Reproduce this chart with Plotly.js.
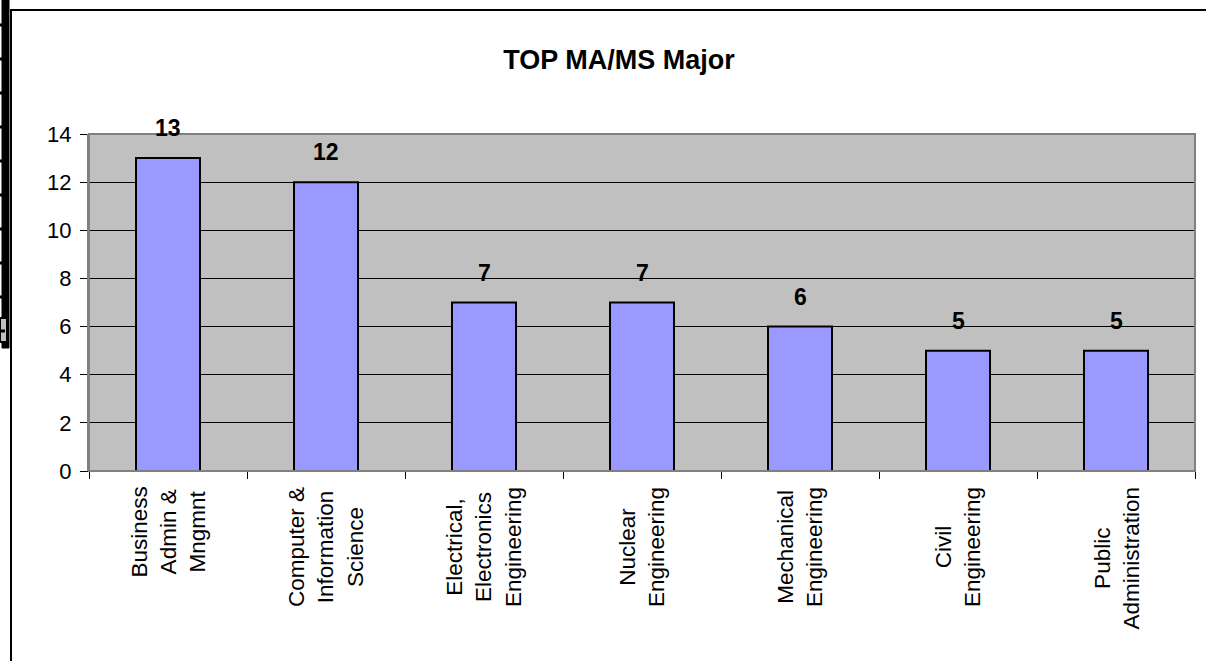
<!DOCTYPE html>
<html>
<head>
<meta charset="utf-8">
<script src="https://cdn.plot.ly/plotly-3.0.1.min.js"></script>
<style>
html,body{margin:0;padding:0;background:#fff;}
#chart{width:1206px;height:661px;}
</style>
</head>
<body>
<div id="chart"></div>
<script>
// ---- data ----
const categories = ["Business Admin & Mngmnt", "Computer & Information Science", "Electrical, Electronics Engineering", "Nuclear Engineering", "Mechanical Engineering", "Civil Engineering", "Public Administration"];
const categoryLabels = ["Business<br>Admin &<br>Mngmnt", "Computer &<br>Information<br>Science", "Electrical,<br>Electronics<br>Engineering", "Nuclear<br>Engineering", "Mechanical<br>Engineering", "Civil<br>Engineering", "Public<br>Administration"];
const counts = [13, 12, 7, 7, 6, 5, 5];
const yTicks = [0, 2, 4, 6, 8, 10, 12, 14];
const chartTitle = "TOP MA/MS Major";

// ---- layout geometry ----
const W = 1206, H = 661;
const M = {l: 89, r: 11, t: 134, b: 190};
const PW = W - M.l - M.r, PH = H - M.t - M.b;
const px = x => (x - M.l) / PW;          // pixel -> paper x
const py = y => (H - M.b - y) / PH;      // pixel -> paper y
const FONT = "Arial, 'Liberation Sans', sans-serif";

const trace = {
  type: 'bar',
  x: categories,
  y: counts,
  marker: {color: '#9999FF', line: {color: '#000000', width: 2}},
  hoverinfo: 'x+y'
};

const annotations = [];
categories.forEach((c, i) => {
  annotations.push({
    x: c, y: counts[i], xref: 'x', yref: 'y',
    text: '<b>' + counts[i] + '</b>', showarrow: false,
    yanchor: 'bottom', yshift: 15,
    font: {family: FONT, size: 23, color: '#000'}
  });
  annotations.push({
    x: c, y: 0, xref: 'x', yref: 'y',
    text: categoryLabels[i], showarrow: false,
    textangle: -90, align: 'center',
    yanchor: 'top', xanchor: 'center', yshift: -14,
    font: {family: FONT, size: 22.5, color: '#000'}
  });
});

const shapes = [
  // plot area border
  {type: 'rect', xref: 'paper', yref: 'paper', x0: 0, x1: 1, y0: 0, y1: 1,
   line: {color: '#808080', width: 2}, layer: 'above'},
  // chart frame (extends beyond the picture on right/bottom)
  {type: 'path', xref: 'paper', yref: 'paper',
   path: `M ${px(11)} ${py(670)} L ${px(11)} ${py(10)} L ${px(1215)} ${py(10)}`,
   line: {color: '#000', width: 2}},
  // left black strip (spreadsheet edge)
  {type: 'rect', xref: 'paper', yref: 'paper', x0: px(2), x1: px(9), y0: py(348), y1: py(-2),
   fillcolor: '#000', line: {color: '#000', width: 1}},
  {type: 'rect', xref: 'paper', yref: 'paper', x0: px(0), x1: px(7), y0: py(342), y1: py(318),
   fillcolor: '#c0c0c0', line: {color: '#000', width: 2}}
];
[25, 59, 93, 127, 161, 195, 229, 263, 297, 331].forEach(y => {
  shapes.push({type: 'line', xref: 'paper', yref: 'paper', x0: px(-1), x1: px(5), y0: py(y), y1: py(y),
    line: {color: '#000', width: 3}});
});

const layout = {
  width: W, height: H,
  margin: M,
  paper_bgcolor: '#ffffff',
  plot_bgcolor: '#C0C0C0',
  font: {family: FONT, color: '#000'},
  title: {
    text: '<b>' + chartTitle + '</b>',
    font: {family: FONT, size: 27, color: '#000'},
    x: 619 / W, xref: 'container', xanchor: 'center',
    y: 1 - 60 / H, yref: 'container', yanchor: 'middle'
  },
  bargap: 0.595,
  showlegend: false,
  xaxis: {
    type: 'category',
    showticklabels: false,
    ticks: 'outside', tickson: 'boundaries', ticklen: 7, tickcolor: '#000', tickwidth: 1,
    showline: true, linecolor: '#000', linewidth: 1,
    showgrid: false, zeroline: false, fixedrange: true
  },
  yaxis: {
    range: [0, 14],
    tickvals: yTicks,
    ticks: 'outside', ticklen: 7, tickcolor: '#000', tickwidth: 1,
    ticklabelstandoff: 4,
    tickfont: {family: FONT, size: 22, color: '#000'},
    showgrid: true, gridcolor: '#000', gridwidth: 1,
    showline: true, linecolor: '#808080', linewidth: 2,
    zeroline: false, fixedrange: true
  },
  annotations: annotations,
  shapes: shapes
};

Plotly.newPlot('chart', [trace], layout, {displayModeBar: false, staticPlot: true});
</script>
</body>
</html>
